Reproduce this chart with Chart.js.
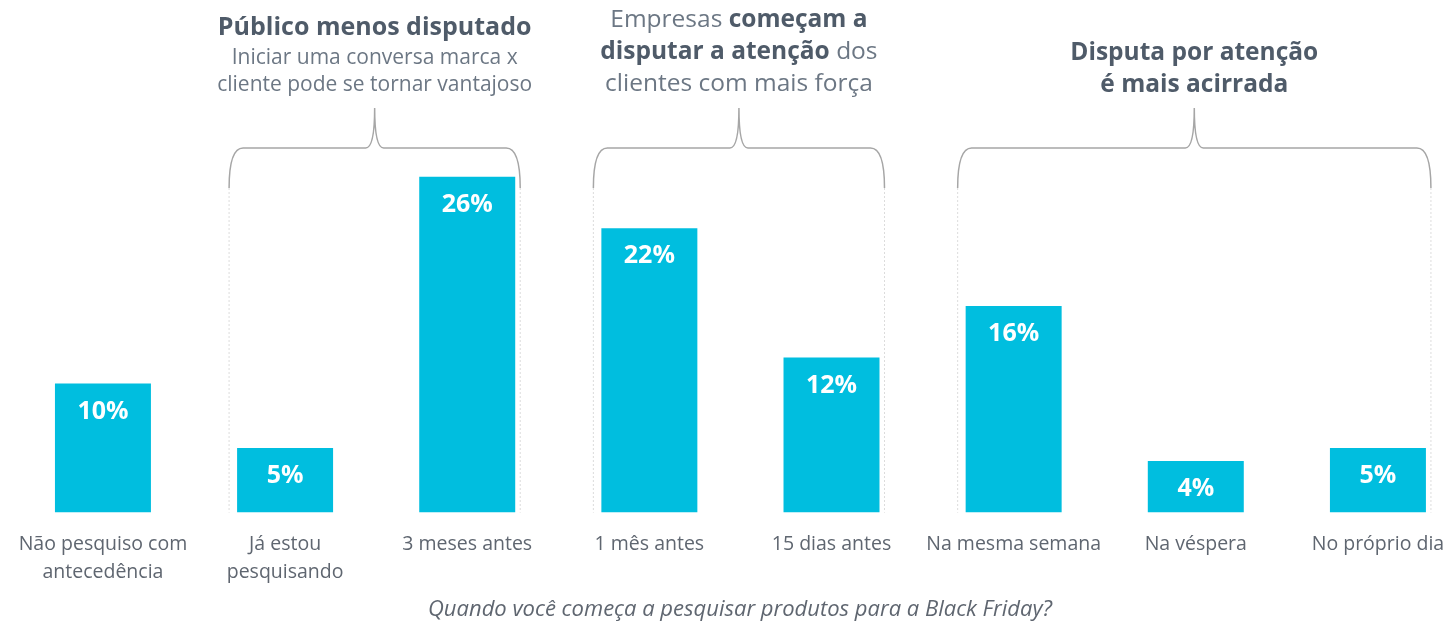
<html>
<script src="https://cdn.jsdelivr.net/npm/chart.js@4.4.1/dist/chart.umd.min.js"></script>
<style>
  body { margin: 0; overflow: hidden; background: white; }
  #wrap { position: absolute; left: 0; top: 0; width: 1480px; height: 623px; }
</style>

<body>
  <div id="wrap"><canvas id="blackFridayChart"></canvas></div>
</body>

<script>
  // data
  var categories = [
    ["Não pesquiso com", "antecedência"],
    ["Já estou", "pesquisando"],
    "3 meses antes",
    "1 mês antes",
    "15 dias antes",
    "Na mesma semana",
    "Na véspera",
    "No próprio dia"
  ];
  var percentValues = [10, 5, 26, 22, 12, 16, 4, 5];
  var chartTitle = "Quando você começa a pesquisar produtos para a Black Friday?";

  // groups: first and last category index + text lines (each line is a list of [text, bold])
  var groupRanges = [[1, 2], [3, 4], [5, 7]];
  var groupTexts = [
    [[["Público menos disputado", true]], [["Iniciar uma conversa marca x", false]], [["cliente pode se tornar vantajoso", false]]],
    [[["Empresas ", false], ["começam a", true]], [["disputar a atenção", true], [" dos", false]], [["clientes com mais força", false]]],
    [[["Disputa por atenção", true]], [["é mais acirrada", true]]]
  ];

  var fontName = "'Open Sans', 'Noto Sans', sans-serif";
  var barColor = "#00BEDF";

  var valueLabels = {
    id: 'valueLabels',
    afterDatasetsDraw: function (chart) {
      var ctx = chart.ctx;
      var meta = chart.getDatasetMeta(0);
      ctx.save();
      ctx.fillStyle = "white";
      ctx.font = "bold 25px " + fontName;
      ctx.textAlign = "center";
      ctx.textBaseline = "middle";
      meta.data.forEach(function (bar, i) {
        ctx.fillText(percentValues[i] + "%", bar.x, bar.y + 28);
      });
      ctx.restore();
    }
  };

  // line y positions and font sizes for each group's text
  var textLayout = [
    { ys: [28, 58, 85], sizes: [25, 21, 21] },
    { ys: [20, 52, 84], sizes: [24.5, 24.5, 24.5] },
    { ys: [53, 85], sizes: [24.5, 24.5] }
  ];

  var groupBrackets = {
    id: 'groupBrackets',
    beforeDatasetsDraw: function (chart) {
      var ctx = chart.ctx;
      var meta = chart.getDatasetMeta(0);
      var base = chart.chartArea.bottom;
      var yTop = 148, yEnd = 188, yCusp = 108;
      ctx.save();
      groupRanges.forEach(function (r, g) {
        var first = meta.data[r[0]], last = meta.data[r[1]];
        var x0 = first.x - first.width / 2 - 8;
        var x1 = last.x + last.width / 2 + 5;
        var cx = (x0 + x1) / 2;

        // dotted guide lines
        ctx.strokeStyle = "#dcdcdc";
        ctx.lineWidth = 1;
        ctx.setLineDash([2, 2]);
        ctx.beginPath();
        ctx.moveTo(x0, yEnd); ctx.lineTo(x0, base);
        ctx.moveTo(x1, yEnd); ctx.lineTo(x1, base);
        ctx.stroke();
        ctx.setLineDash([]);

        // curly bracket
        ctx.strokeStyle = "#a6a6a6";
        ctx.lineWidth = 1.5;
        ctx.beginPath();
        ctx.moveTo(x0, yEnd);
        ctx.quadraticCurveTo(x0, yTop, x0 + 14, yTop);
        ctx.lineTo(cx - 9, yTop);
        ctx.quadraticCurveTo(cx, yTop, cx, yCusp);
        ctx.quadraticCurveTo(cx, yTop, cx + 9, yTop);
        ctx.lineTo(x1 - 14, yTop);
        ctx.quadraticCurveTo(x1, yTop, x1, yEnd);
        ctx.stroke();

        // text above bracket
        var lay = textLayout[g];
        groupTexts[g].forEach(function (parts, li) {
          var y = lay.ys[li];
          var sz = lay.sizes[li];
          var widths = parts.map(function (p) {
            ctx.font = (p[1] ? "bold " : "") + sz + "px " + fontName;
            return ctx.measureText(p[0]).width;
          });
          var total = widths.reduce(function (a, b) { return a + b; }, 0);
          var x = cx - total / 2;
          ctx.textAlign = "left";
          ctx.textBaseline = "middle";
          parts.forEach(function (p, pi) {
            ctx.font = (p[1] ? "bold " : "") + sz + "px " + fontName;
            ctx.fillStyle = p[1] ? "#4f5b69" : "#6c7784";
            ctx.fillText(p[0], x, y);
            x += widths[pi];
          });
        });
      });
      ctx.restore();
    }
  };

  var canvasHandle = document.getElementById('blackFridayChart');
  this.chart = new Chart(canvasHandle, {
    type: "bar",
    data: {
      labels: categories,
      datasets: [
        {
          label: "Respostas",
          backgroundColor: barColor,
          data: percentValues,
          barPercentage: 0.527,
          categoryPercentage: 1
        }
      ]
    },
    options: {
      responsive: true,
      maintainAspectRatio: false,
      animation: false,
      layout: { padding: { left: 11, right: 11, top: 125, bottom: 0 } },
      scales: {
        x: {
          grid: { display: false, drawTicks: false },
          border: { display: false },
          afterFit: function (scale) { scale.height = 72; },
          ticks: {
            color: "#5f6670",
            font: { family: fontName, size: 19.5, lineHeight: 1.44 },
            padding: 18,
            maxRotation: 0,
            autoSkip: false
          }
        },
        y: { display: false, min: 0, max: 30 }
      },
      plugins: {
        legend: { display: false },
        tooltip: { enabled: false },
        title: {
          display: true,
          position: "bottom",
          text: chartTitle,
          color: "#5f6670",
          font: { family: fontName, size: 22, style: "italic", weight: "normal" },
          padding: { top: 12, bottom: 0 }
        }
      }
    },
    plugins: [groupBrackets, valueLabels]
  });
</script>

</html>
